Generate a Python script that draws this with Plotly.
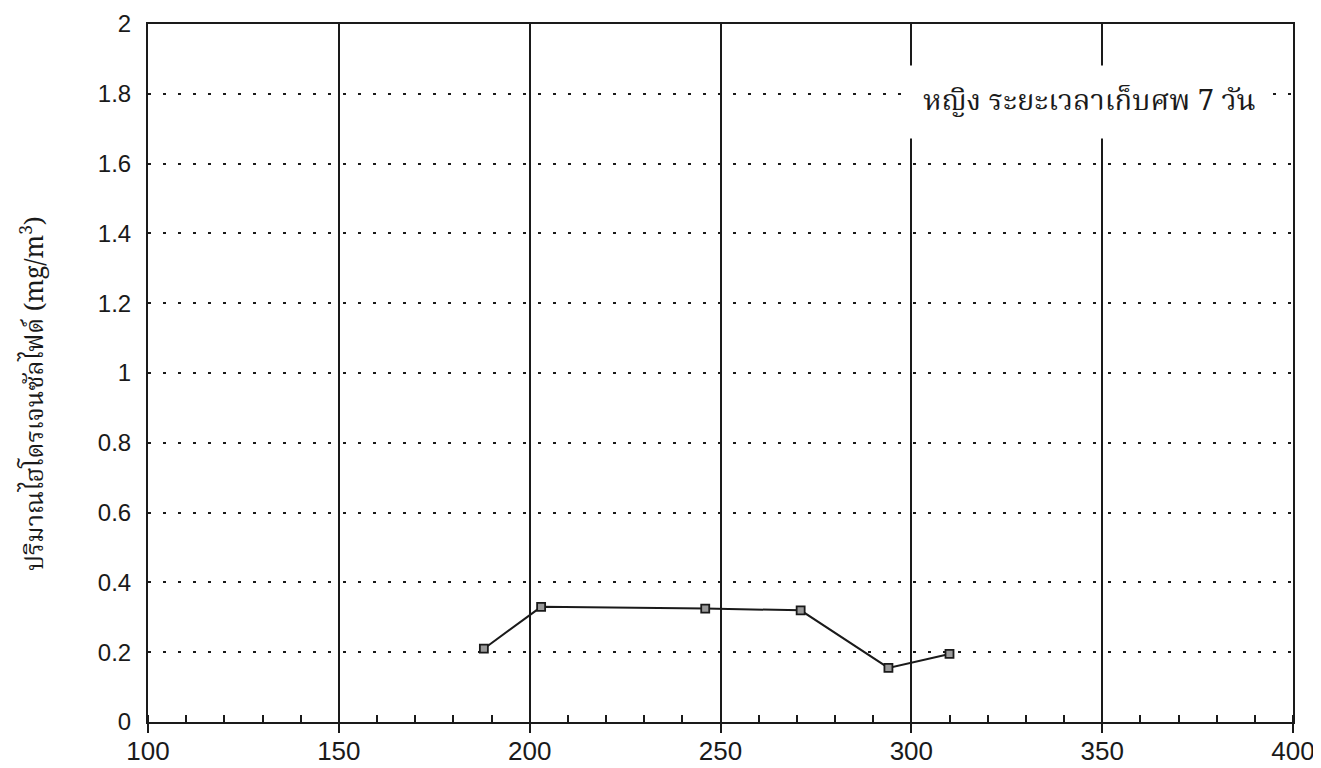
import plotly.graph_objects as go

x_vals = [188, 203, 246, 271, 294, 310]
y_vals = [0.21, 0.33, 0.325, 0.32, 0.155, 0.195]
x_ticks = [100, 150, 200, 250, 300, 350, 400]
y_ticks = [0, 0.2, 0.4, 0.6, 0.8, 1, 1.2, 1.4, 1.6, 1.8, 2]
y_tick_text = ["0", "0.2", "0.4", "0.6", "0.8", "1", "1.2", "1.4", "1.6", "1.8", "2"]
label_text = "หญิง ระยะเวลาเก็บศพ 7 วัน"
y_title = "ปริมาณไฮโดรเจนซัลไฟด์ (mg/m<sup>3</sup>)"

thai_font = "Noto Serif Thai, Noto Sans Thai, Loma, Garuda, serif"
ink = "#1a1a1a"

fig = go.Figure()
fig.add_trace(go.Scatter(
    x=x_vals, y=y_vals, mode="lines+markers",
    line=dict(color=ink, width=2),
    marker=dict(symbol="square", size=8, color="#9a9a9a", line=dict(width=1.8, color=ink)),
    showlegend=False,
))

fig.add_annotation(
    x=1.0, y=1.8, xref="paper", yref="y", xanchor="right", yanchor="middle",
    xshift=-23, yshift=-8,
    text=label_text, showarrow=False,
    font=dict(family=thai_font, size=29, color=ink),
    bgcolor="white", borderpad=13,
)

fig.add_annotation(
    x=0, xref="paper", xanchor="center", xshift=-113,
    y=0.47, yref="paper", yanchor="middle",
    text=y_title, textangle=-90, showarrow=False,
    font=dict(family=thai_font, size=25, color=ink),
)

fig.update_layout(
    width=1313, height=760,
    margin=dict(l=140, r=28, t=16, b=46),
    paper_bgcolor="white", plot_bgcolor="white",
    font=dict(family="Liberation Sans, Arial, sans-serif", size=22, color=ink),
    xaxis=dict(
        range=[100, 400], tickvals=x_ticks, automargin=False,
        ticklabeloverflow="allow", ticklabelstandoff=-4,
        showgrid=True, gridcolor=ink, gridwidth=1.5,
        showline=True, linecolor=ink, linewidth=2, mirror=True,
        ticks="outside", ticklen=9, tickcolor=ink, tickwidth=1.5,
        minor=dict(dtick=10, ticks="inside", ticklen=7, tickcolor=ink, tickwidth=1.5, showgrid=False),
        zeroline=False,
        tickfont=dict(size=26),
    ),
    yaxis=dict(
        range=[0, 2], tickvals=y_ticks, ticktext=y_tick_text, automargin=False,
        ticklabeloverflow="allow",
        showgrid=True, gridcolor=ink, gridwidth=2, griddash="3px,12px",
        showline=True, linecolor=ink, linewidth=2, mirror=True,
        ticks="outside", ticklen=10, tickcolor="rgba(0,0,0,0)", zeroline=False,
        tickfont=dict(size=24),
    ),
)

fig.write_html("out.html")
